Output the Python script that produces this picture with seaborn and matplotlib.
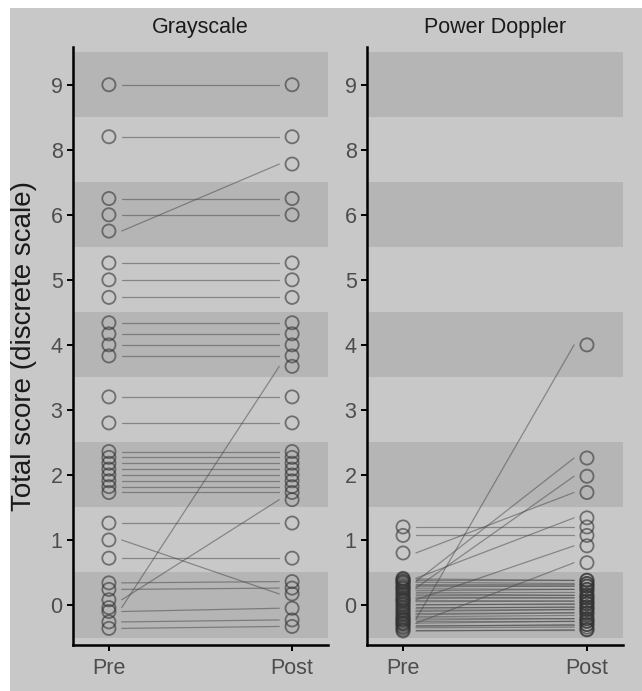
import numpy as np
import pandas as pd
import matplotlib.pyplot as plt
import seaborn as sns
from matplotlib.patches import Rectangle

# discrete score levels (position on the y axis -> label)
levels = ["0", "1", "2", "3", "4", "5", "6", "8", "9"]
panels = ["Grayscale", "Power Doppler"]

# per-subject scores, as level position + small within-level offset
gs_pre = [8.0, 7.2, 5.75, 6.25, 6.0, 5.26, 5.0, 4.73, 4.34, 4.17, 4.0, 3.83,
          3.2, 2.8, 2.36, 2.27, 2.18, 2.09, 2.0, 1.91, 1.82, 1.73,
          1.26, 1.0, 0.72, 0.34, 0.24, 0.08, -0.04, -0.1, -0.26, -0.36]
gs_post = [8.0, 7.2, 6.78, 6.25, 6.0, 5.26, 5.0, 4.73, 4.34, 4.17, 4.0, 3.83,
           3.2, 2.8, 2.36, 2.27, 2.18, 2.09, 2.0, 1.91, 1.82, 1.73,
           1.26, 0.17, 0.72, 0.36, 0.26, 1.62, 3.67, -0.05, -0.23, -0.33]

pd_pre = [1.2, 1.07, 0.8, 0.41, 0.36, 0.26, 0.08, -0.22, -0.28,
          0.40, 0.38, 0.35, 0.33, 0.30, 0.28, 0.25, 0.22, 0.20, 0.17, 0.15,
          0.12, 0.10, 0.07, 0.05, 0.02, 0.0, -0.03, -0.05, -0.08, -0.10,
          -0.13, -0.15, -0.18, -0.20, -0.23, -0.25, -0.28, -0.30, -0.33,
          -0.35, -0.38, -0.40]
pd_post = [1.2, 1.07, 1.73, 1.34, 2.26, 1.98, 0.91, 4.0, 0.65,
           0.38, 0.38, 0.33, 0.33, 0.29, 0.29, 0.24, 0.24, 0.20, 0.15, 0.15,
           0.11, 0.11, 0.06, 0.06, 0.02, 0.02, -0.03, -0.03, -0.07, -0.07,
           -0.12, -0.12, -0.16, -0.21, -0.21, -0.25, -0.25, -0.30, -0.30,
           -0.34, -0.38, -0.38]

data = {"Grayscale": (gs_pre, gs_post), "Power Doppler": (pd_pre, pd_post)}

bg = "#c8c8c8"
dark = "#b5b5b5"
gap = 0.07  # lines stop at the circle edge

sns.set_style("ticks")
plt.rcParams["font.family"] = ["Liberation Sans", "DejaVu Sans"]

fig = plt.figure(figsize=(6.42, 6.91), dpi=100)
fig.patch.set_facecolor("white")
fig.add_artist(Rectangle((10 / 642, 0), 1, 683 / 691, transform=fig.transFigure,
                         fc=bg, ec="none", zorder=-5))

axs = [fig.add_axes([73 / 642, 46 / 691, 255 / 642, 598 / 691]),
       fig.add_axes([367 / 642, 46 / 691, 256 / 642, 598 / 691])]

for ax, name in zip(axs, panels):
    pre, post = data[name]
    n = len(pre)
    pts = pd.DataFrame({"x": [0] * n + [1] * n, "y": list(pre) + list(post)})
    lines = pd.DataFrame({
        "id": list(range(n)) * 2,
        "x": [gap] * n + [1 - gap] * n,
        "y": list(pre) + list(post),
    })

    ax.set_facecolor(bg)
    for i in range(len(levels)):
        if i % 2 == 0:
            ax.axhspan(i - 0.5, i + 0.5, color=dark, lw=0, zorder=0)

    sns.lineplot(data=lines, x="x", y="y", units="id", estimator=None, sort=False,
                 color="#444444", lw=0.9, alpha=0.5, ax=ax, legend=False, zorder=2)
    sns.scatterplot(data=pts, x="x", y="y", s=90, facecolors="none",
                    edgecolor="#333333", alpha=0.6, linewidth=1.3, ax=ax,
                    legend=False, zorder=3)

    ax.set_xlim(-0.196, 1.196)
    ax.set_ylim(-0.615, 8.58)
    ax.set_xticks([0, 1], ["Pre", "Post"])
    ax.set_yticks(range(len(levels)), levels)
    ax.tick_params(color="black", labelcolor="#4d4d4d", length=4.5, width=1.4,
                   labelsize=15.5, pad=3)
    ax.tick_params(axis="x", pad=5)
    for s in ["top", "right"]:
        ax.spines[s].set_visible(False)
    for s in ["left", "bottom"]:
        ax.spines[s].set_linewidth(1.8)
        ax.spines[s].set_color("black")
    ax.set_xlabel("")
    ax.set_ylabel("")
    ax.set_title(name, fontsize=15.5, color="#1a1a1a", pad=10)

axs[0].set_ylabel("Total score (discrete scale)", fontsize=20, color="#1a1a1a")
axs[0].yaxis.set_label_coords(-0.14, 0.5)

plt.savefig("out.png", dpi=100, facecolor=fig.get_facecolor())
